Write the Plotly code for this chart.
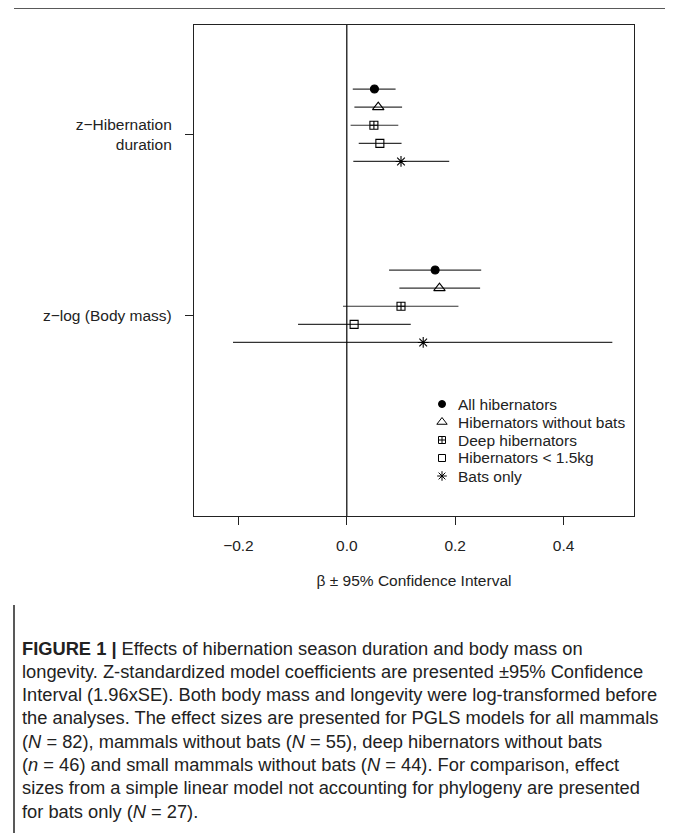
import plotly.graph_objects as go

# ---- data ----
series_names = ["All hibernators", "Hibernators without bats", "Deep hibernators",
                "Hibernators < 1.5kg", "Bats only"]
predictors = ["z\u2212Hibernation<br>duration", "z\u2212log (Body mass)"]

# estimates per series: [hibernation duration, body mass]
est_all = [0.051, 0.163]
est_nobats = [0.058, 0.171]
est_deep = [0.050, 0.100]
est_small = [0.061, 0.0135]
est_bats = [0.100, 0.141]

lo_all = [0.011, 0.078]
lo_nobats = [0.014, 0.097]
lo_deep = [0.007, -0.007]
lo_small = [0.022, -0.090]
lo_bats = [0.012, -0.210]

hi_all = [0.090, 0.248]
hi_nobats = [0.102, 0.246]
hi_deep = [0.095, 0.206]
hi_small = [0.101, 0.118]
hi_bats = [0.189, 0.490]

x_ticks = [-0.2, 0.0, 0.2, 0.4]
x_ticklabels = ["\u22120.2", "0.0", "0.2", "0.4"]

estimates = [est_all, est_nobats, est_deep, est_small, est_bats]
lows = [lo_all, lo_nobats, lo_deep, lo_small, lo_bats]
highs = [hi_all, hi_nobats, hi_deep, hi_small, hi_bats]

# ---- styles / layout ----
symbols = ["circle", "triangle-up-open", "square-cross-open", "square-open", "asterisk-open"]
sizes = [8, 10, 8, 8, 9]
leg_sizes = [7, 9, 7, 7, 8]
OFF = 8                      # page body margin
W, H = 673 - OFF, 833 - OFF
FONT = "Liberation Sans, Arial, sans-serif"
TXT = "#222"

def px(x):
    return (x - OFF) / W

def py(y):
    return 1 - (y - OFF) / H

# plot box in screen pixels
BL, BR, BT, BB = 194, 634, 25, 516
XR = [-0.282, 0.530]
YR = [-3.54, 23.59]          # top, bottom in row units

def data_x(pix):
    return XR[0] + (pix - BL) / (BR - BL) * (XR[1] - XR[0])

def data_y(pix):
    return YR[0] + (pix - BT) / (BB - BT) * (YR[1] - YR[0])

def row_pos(g, s):
    return g * 10 + s

fig = go.Figure()
for s, name in enumerate(series_names):
    xs = estimates[s]
    ys = [row_pos(g, s) for g in range(len(predictors))]
    fig.add_trace(go.Scatter(
        x=xs, y=ys, mode="markers", name=name, showlegend=False,
        marker=dict(symbol=symbols[s], size=sizes[s], color="black",
                    line=dict(color="black", width=1.1)),
        error_x=dict(type="data", symmetric=False,
                     array=[h - e for h, e in zip(highs[s], xs)],
                     arrayminus=[e - l for e, l in zip(xs, lows[s])],
                     width=0, thickness=1.2, color="#333"),
    ))

# manual legend (symbols + labels)
LEG_X, LEG_Y0, LEG_DY, LEG_TX = 442, 404, 18, 457
for s, name in enumerate(series_names):
    fig.add_trace(go.Scatter(
        x=[data_x(LEG_X)], y=[data_y(LEG_Y0 + s * LEG_DY)], mode="markers",
        showlegend=False, hoverinfo="skip",
        marker=dict(symbol=symbols[s], size=leg_sizes[s], color="black",
                    line=dict(color="black", width=1)),
    ))
    fig.add_annotation(xref="paper", yref="paper", x=px(LEG_TX), y=py(LEG_Y0 + s * LEG_DY),
                       xanchor="left", yanchor="middle", showarrow=False, text=name,
                       borderpad=0, font=dict(family=FONT, size=15.5, color=TXT))

# vertical zero line
fig.add_shape(type="line", xref="x", yref="paper", x0=0, x1=0,
              y0=py(BB), y1=py(BT), line=dict(color="black", width=1.2))

# outer frame lines
fig.add_shape(type="line", xref="paper", yref="paper", x0=px(14), x1=px(671),
              y0=py(8), y1=py(8), line=dict(color="#222", width=1.5))
fig.add_shape(type="line", xref="paper", yref="paper", x0=px(671), x1=px(671),
              y0=0, y1=py(8), line=dict(color="#666", width=1.5))
fig.add_shape(type="line", xref="paper", yref="paper", x0=px(14), x1=px(14),
              y0=0, y1=py(605), line=dict(color="#222", width=1.5))

# caption
caption = [
    "<b>FIGURE 1 |</b> Effects of hibernation season duration and body mass on",
    "longevity. Z-standardized model coefficients are presented \u00b195% Confidence",
    "Interval (1.96xSE). Both body mass and longevity were log-transformed before",
    "the analyses. The effect sizes are presented for PGLS models for all mammals",
    "(<i>N</i> = 82), mammals without bats (<i>N</i> = 55), deep hibernators without bats",
    "(<i>n</i> = 46) and small mammals without bats (<i>N</i> = 44). For comparison, effect",
    "sizes from a simple linear model not accounting for phylogeny are presented",
    "for bats only (<i>N</i> = 27).",
]
for i, line in enumerate(caption):
    fig.add_annotation(xref="paper", yref="paper", x=px(21), y=py(648 + i * 23.3),
                       xanchor="left", yanchor="middle", showarrow=False, text=line,
                       borderpad=0,
                       font=dict(family=FONT, size=18.3, color=TXT))

fig.update_layout(
    width=W, height=H, margin=dict(l=0, r=0, t=0, b=0),
    paper_bgcolor="white", plot_bgcolor="white",
    font=dict(family=FONT, size=15.5, color=TXT),
    xaxis=dict(domain=[px(BL), px(BR)], range=XR,
               tickvals=x_ticks, ticktext=x_ticklabels,
               ticks="outside", ticklen=8, tickcolor="#222", tickwidth=1.2,
               ticklabelstandoff=7,
               showline=True, linecolor="#222", linewidth=1.2, mirror=True,
               showgrid=False, zeroline=False,
               title=dict(text="\u03b2 \u00b1 95% Confidence Interval", standoff=22,
                          font=dict(size=15.5))),
    yaxis=dict(domain=[py(BB), py(BT)], range=[YR[1], YR[0]],
               tickvals=[2.5, 12.5], ticktext=predictors,
               ticks="outside", ticklen=8, tickcolor="#222", tickwidth=1.2,
               ticklabelstandoff=10,
               showline=True, linecolor="#222", linewidth=1.2, mirror=True,
               showgrid=False, zeroline=False),
    showlegend=False,
)

fig.write_html("out.html")
